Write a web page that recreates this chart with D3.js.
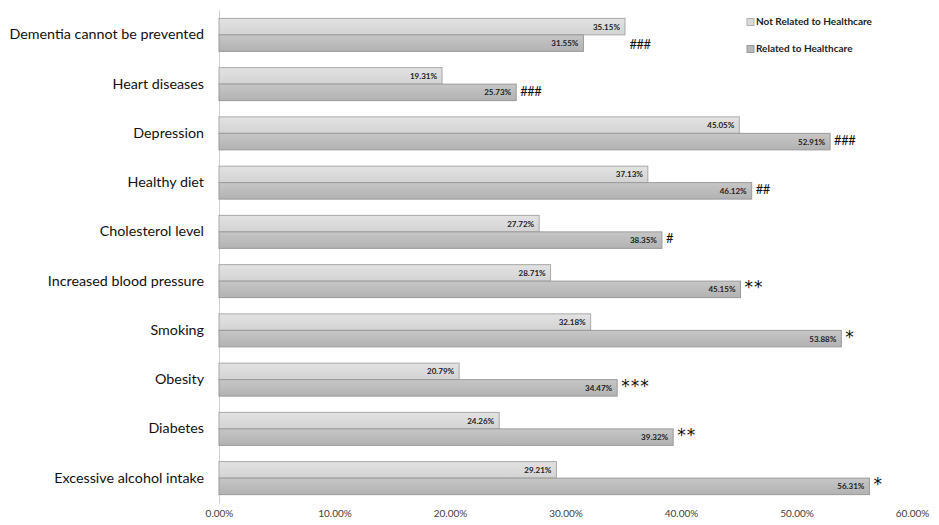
<!DOCTYPE html>
<html>
<head>
<meta charset="utf-8">
<script src="https://cdn.jsdelivr.net/npm/d3@7"></script>
<style>
  body { margin: 0; background: #fff; }
  svg { display: block; }
</style>
</head>
<body>
<svg id="chart" width="939" height="525"></svg>
<script>
// chart data
const categories = [
  'Dementia cannot be prevented',
  'Heart diseases',
  'Depression',
  'Healthy diet',
  'Cholesterol level',
  'Increased blood pressure',
  'Smoking',
  'Obesity',
  'Diabetes',
  'Excessive alcohol intake',
];
const notRelated = [35.15, 19.31, 45.05, 37.13, 27.72, 28.71, 32.18, 20.79, 24.26, 29.21];
const related = [31.55, 25.73, 52.91, 46.12, 38.35, 45.15, 53.88, 34.47, 39.32, 56.31];
const marks = ['###', '###', '###', '##', '#', '**', '*', '***', '**', '*'];
const seriesNames = ['Not Related to Healthcare', 'Related to Healthcare'];
const xTicks = [0, 10, 20, 30, 40, 50, 60];

const width = 939;
const height = 525;
const margin = { top: 10, right: 27, bottom: 22, left: 219 };

const svg = d3.select('#chart');
const defs = svg.append('defs');

// soft vertical gradients like the original office chart
const grad = (id, top, bottom) => {
  const g = defs.append('linearGradient').attr('id', id)
    .attr('x1', 0).attr('x2', 0).attr('y1', 0).attr('y2', 1);
  g.append('stop').attr('offset', '0%').attr('stop-color', top);
  g.append('stop').attr('offset', '100%').attr('stop-color', bottom);
};
grad('gLight', '#e2e2e2', '#d3d3d3');
grad('gDark', '#c6c6c6', '#b2b2b2');

const x = d3.scaleLinear()
  .domain([0, 60])
  .range([margin.left, width - margin.right]);

const y = d3.scaleBand()
  .domain(categories)
  .range([margin.top, height - margin.bottom])
  .paddingInner(0.33)
  .paddingOuter(0.17);

const sub = d3.scaleBand()
  .domain([0, 1])
  .range([0, y.bandwidth()]);

// x axis labels only
const xAxis = svg.append('g')
  .attr('transform', `translate(0, ${height - 14})`)
  .call(d3.axisBottom(x).tickValues(xTicks).tickSize(0).tickFormat((d) => d.toFixed(2) + '%'));
xAxis.select('.domain').remove();
xAxis.selectAll('text')
  .attr('dy', 0)
  .attr('dominant-baseline', 'middle')
  .attr('fill', '#404040')
  .style('font-family', 'Lato, "Liberation Sans", sans-serif')
  .style('font-size', '10px');

// y axis
const yAxis = svg.append('g')
  .attr('transform', `translate(${margin.left}, 0)`)
  .call(d3.axisLeft(y).tickSize(0).tickPadding(15));
yAxis.select('.domain').attr('stroke', '#d0d0d0');
yAxis.selectAll('text')
  .attr('fill', '#111')
  .style('font-family', 'Lato, "Liberation Sans", sans-serif')
  .style('font-size', '14.3px');

const rows = categories.map((c, i) => ({
  cat: c, vals: [notRelated[i], related[i]], mark: marks[i], i,
}));

const group = svg.append('g').selectAll('.grp')
  .data(rows)
  .join('g')
  .attr('class', 'grp')
  .attr('transform', (d) => `translate(0, ${y(d.cat)})`);

group.selectAll('rect')
  .data((d) => d.vals.map((v, s) => ({ v, s })))
  .join('rect')
  .attr('x', x(0))
  .attr('y', (d) => sub(d.s))
  .attr('width', (d) => x(d.v) - x(0))
  .attr('height', sub.bandwidth())
  .attr('fill', (d) => (d.s === 0 ? 'url(#gLight)' : 'url(#gDark)'))
  .attr('stroke', (d) => (d.s === 0 ? '#a9a9a9' : '#9a9a9a'))
  .attr('stroke-width', 1);

group.selectAll('.val')
  .data((d) => d.vals.map((v, s) => ({ v, s })))
  .join('text')
  .attr('class', 'val')
  .attr('x', (d) => x(d.v) - 5)
  .attr('y', (d) => sub(d.s) + sub.bandwidth() / 2 + 1)
  .attr('text-anchor', 'end')
  .attr('dominant-baseline', 'middle')
  .attr('fill', '#222')
  .style('font-family', 'Lato, "Liberation Sans", sans-serif')
  .style('font-weight', 'bold')
  .style('font-size', '8px')
  .text((d) => d.v.toFixed(2) + '%');

// significance marks, first one sits further right in the original
const isStar = (m) => m.includes('*');
group.append('text')
  .attr('x', (d) => x(d.vals[1]) + (d.i === 0 ? 46 : 4))
  .attr('y', (d) => sub(1) + sub.bandwidth() / 2 + (d.i === 0 ? 3 : 0) - (isStar(d.mark) ? 1 : 0))
  .attr('dominant-baseline', 'middle')
  .attr('fill', '#111')
  .style('font-family', (d) => (isStar(d.mark) ? '"DejaVu Sans", sans-serif' : 'Lato, sans-serif'))
  .style('font-size', (d) => (isStar(d.mark) ? '17px' : '13px'))
  .style('letter-spacing', (d) => (isStar(d.mark) ? '1px' : '-0.5px'))
  .text((d) => d.mark);

// legend
const legend = svg.append('g').selectAll('g')
  .data(seriesNames)
  .join('g')
  .attr('transform', (d, i) => `translate(747, ${22 + i * 27})`);
legend.append('rect')
  .attr('x', 0).attr('y', -3.5)
  .attr('width', 7).attr('height', 7)
  .attr('fill', (d, i) => (i === 0 ? '#dadada' : '#b8b8b8'))
  .attr('stroke', (d, i) => (i === 0 ? '#b0b0b0' : '#999'));
legend.append('text')
  .attr('x', 9)
  .attr('y', 0)
  .attr('dominant-baseline', 'middle')
  .attr('fill', '#222')
  .style('font-family', 'Lato, "Liberation Sans", sans-serif')
  .style('font-weight', 'bold')
  .style('font-size', '10px')
  .text((d) => d);
</script>
</body>
</html>
